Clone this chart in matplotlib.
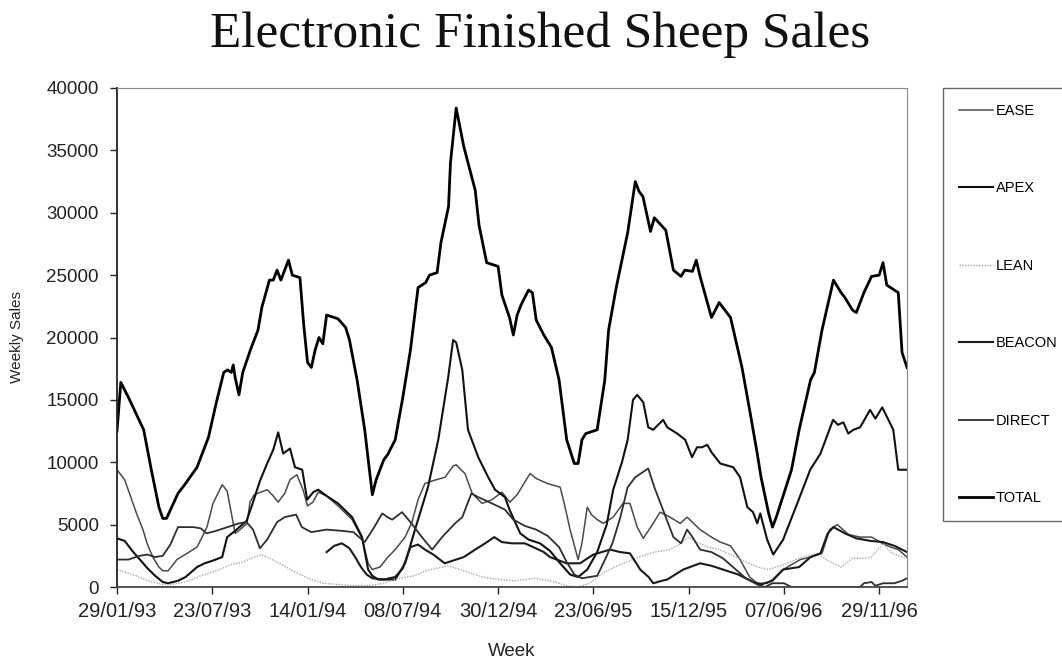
import matplotlib
matplotlib.use('Agg')
import matplotlib.pyplot as plt
import numpy as np

"""
Electronic Finished Sheep Sales, weekly, 29/01/93 onwards.
Values read off the original chart (week index, sales).
"""

tick_weeks = [0, 25, 50, 75, 100, 125, 150, 175, 200]
tick_labels = ['29/01/93', '23/07/93', '14/01/94', '08/07/94', '30/12/94',
               '23/06/95', '15/12/95', '07/06/96', '29/11/96']

total_w = [0, 1, 3, 7, 9, 11, 12, 13, 16, 18, 21, 24, 26, 28, 29, 30, 30.5, 31, 32, 33, 35, 37, 38, 40, 41,
           42, 43, 45, 46, 48, 49, 50, 51, 52, 53, 54, 55, 58, 60, 61, 63, 65, 67, 68, 70, 71, 73, 75, 77,
           79, 81, 82, 84, 85, 87, 87.5, 89, 91, 94, 95, 97, 100, 101, 103, 104, 105, 106, 108, 109, 110,
           112, 114, 116, 118, 120, 121, 122, 123, 126, 128, 129, 131, 134, 136, 137, 138, 140, 141, 144,
           146, 148, 149, 151, 152, 153, 156, 158, 161, 164, 166, 168, 169, 171, 172, 173, 177, 179, 182,
           183, 185, 188, 190, 191, 193, 194, 196, 198, 200, 201, 202, 205, 206, 207.3]
total_v = [12500, 16400, 15200, 12600, 9400, 6400, 5500, 5500, 7500, 8300, 9600, 12000, 14700, 17200,
           17400, 17200, 17800, 16800, 15400, 17200, 19000, 20600, 22400, 24600, 24600, 25400, 24600,
           26200, 25000, 24800, 21000, 18000, 17600, 19000, 20000, 19500, 21800, 21500, 20800, 19800,
           16600, 12600, 7400, 8600, 10200, 10600, 11800, 15200, 19000, 24000, 24400, 25000, 25200,
           27600, 30500, 34000, 38400, 35300, 31800, 29000, 26000, 25700, 23400, 21600, 20200, 21800,
           22600, 23800, 23600, 21400, 20200, 19200, 16600, 11800, 9900, 9900, 11800, 12300, 12600,
           16600, 20600, 24000, 28400, 32500, 31700, 31300, 28500, 29600, 28600, 25400, 24900, 25400,
           25300, 26200, 24900, 21600, 22800, 21600, 17600, 14200, 10700, 8800, 5900, 4800, 5600, 9400,
           12600, 16600, 17200, 20600, 24600, 23600, 23200, 22200, 22000, 23600, 24900, 25000, 26000,
           24200, 23600, 18800, 17600]

apex_w = [0, 2, 4, 6, 8, 10, 12, 13.4, 16, 18, 21, 23, 25, 27.6, 28.9, 31, 34, 35.7, 37.5, 39.4, 41, 42.3,
          43.6, 45.4, 46.7, 48.6, 49.9, 51.5, 52.8, 55, 58, 61.7, 64.3, 65.9, 67, 68.5, 73, 75.6, 78.2,
          81.6, 84.3, 86.9, 88.2, 89, 90.6, 92.1, 94.8, 97.4, 99.2, 101.8, 103, 105.8, 108, 111, 113.6,
          116.3, 118.9, 121, 123.4, 126, 128.5, 130.2, 132.5, 134, 135.4, 136.5, 138.1, 139.4, 140.7,
          143.3, 144.4, 147, 149.1, 150.9, 152.2, 153.5, 154.9, 156, 158.3, 161.7, 163.5, 165.4, 166.9,
          168, 168.8, 170.6, 172.2, 174.8, 178.5, 181.9, 184.6, 187.9, 189.2, 190.6, 191.9, 193.2, 195,
          197.6, 199, 200.8, 202.1, 203.7, 205, 207.3]
apex_v = [3900, 3700, 2900, 2200, 1500, 900, 400, 300, 500, 800, 1600, 1900, 2100, 2400, 4000, 4500, 5300,
          6800, 8500, 9900, 11000, 12400, 10700, 11100, 9600, 9400, 7000, 7600, 7800, 7300, 6700, 5600,
          4000, 1400, 900, 600, 600, 1900, 4600, 8000, 11800, 16800, 19800, 19600, 17400, 12600, 10400,
          8800, 7800, 7200, 6200, 4300, 3800, 3500, 2900, 1900, 1000, 800, 1400, 2800, 5000, 7800, 10000,
          11800, 15000, 15400, 14800, 12800, 12600, 13400, 12800, 12300, 11800, 10400, 11200, 11200,
          11400, 10800, 9900, 9600, 8800, 6400, 6000, 5100, 5900, 3800, 2600, 3800, 6700, 9400, 10700,
          13400, 13000, 13200, 12300, 12600, 12800, 14200, 13500, 14400, 13600, 12600, 9400, 9400]

ease_w = [0, 2, 3.4, 5, 6.8, 8, 9.4, 11, 12, 13.4, 15, 15.7, 18.4, 21, 22, 23.6, 25.2, 27.6, 28.9, 30.2,
          31, 32.3, 34.1, 34.9, 36, 39.4, 41, 42.3, 44, 45.4, 47.2, 48.8, 50, 51.4, 52.8, 55, 58, 61.7,
          64.3, 65.9, 67, 69, 71.1, 73, 75.6, 77.4, 79, 80.8, 82.7, 86.1, 88.2, 89, 90.6, 91.3, 93.2, 95.8,
          98.4, 101, 103.1, 105, 108.4, 110, 112.9, 116.3, 117.5, 118.9, 121, 122, 123.4, 124.5, 126,
          127.6, 130.2, 132.8, 134.6, 136.5, 138.1, 140.7, 142.5, 145.1, 147.8, 149.6, 153, 156, 158.3,
          161, 163.5, 166, 168, 170.6, 172, 174.8, 179.3, 182, 185, 187, 189, 192, 195, 198, 200.8, 203,
          205, 207.3]
ease_v = [9400, 8600, 7400, 6000, 4600, 3400, 2400, 1600, 1300, 1300, 1900, 2200, 2700, 3200, 3800, 4800,
          6700, 8200, 7700, 5600, 4300, 4600, 5100, 6800, 7400, 7800, 7300, 6800, 7500, 8600, 9000, 7800,
          6500, 6800, 7600, 7300, 6500, 5400, 3900, 1900, 1400, 1600, 2400, 3000, 4000, 5200, 7000, 8300,
          8500, 8800, 9700, 9800, 9300, 9100, 7500, 6700, 7000, 7600, 6800, 7400, 9100, 8700, 8300, 8000,
          6500, 4600, 2200, 3500, 6400, 5800, 5400, 5100, 5600, 6700, 6700, 4800, 3900, 5100, 6000, 5600,
          5100, 5600, 4600, 4000, 3600, 3300, 2200, 800, 300, 300, 600, 1400, 2200, 2400, 2700, 4600,
          5000, 4200, 4000, 4000, 3500, 3200, 3000, 2400]

lean_w = [0, 2, 5, 8, 12, 14, 18, 22, 26, 30, 33, 36, 38, 40, 42, 45, 48, 51, 54, 58, 62, 66, 70, 74, 78,
          81, 84, 87, 89, 92, 96, 100, 104, 110, 115, 118, 121, 124, 128, 132, 137, 141, 145, 148, 150,
          152, 155, 158, 161, 165, 168, 171, 175, 178, 181, 184, 186, 188, 190, 193, 196, 198, 201, 203,
          205, 207.3]
lean_v = [1400, 1200, 900, 500, 200, 200, 400, 900, 1300, 1800, 2000, 2400, 2600, 2300, 2000, 1500, 1000,
          600, 300, 200, 100, 100, 300, 700, 900, 1300, 1500, 1700, 1500, 1200, 800, 600, 500, 700, 400,
          100, 0, 300, 1200, 1800, 2400, 2800, 3000, 3500, 4000, 3600, 3200, 3000, 2600, 2000, 1600, 1400,
          1800, 2200, 2500, 2700, 2200, 1900, 1600, 2300, 2300, 2400, 3500, 2800, 2500, 2300]

beacon_w = [55, 57, 59, 61, 62.5, 64, 65.5, 67, 70, 73, 75, 77, 79, 80.8, 83, 86, 88, 91, 94, 96.6, 99,
            101, 103.7, 107, 109.2, 112, 113.6, 118, 121.5, 125, 129.4, 132, 134.6, 137.3, 139.5, 140.7,
            143, 144.4, 147, 148.6, 153, 156, 159, 163, 167, 169, 172, 174.8, 179, 182, 184.6, 186.5, 188,
            191, 194, 197.6, 201, 204, 207.3]
beacon_v = [2800, 3300, 3500, 3100, 2400, 1600, 1000, 700, 600, 800, 1500, 3200, 3400, 3000, 2600, 1900,
            2100, 2400, 3000, 3500, 4000, 3600, 3500, 3500, 3200, 2800, 2400, 1900, 1900, 2600, 3000, 2800,
            2700, 1400, 800, 300, 500, 600, 1100, 1400, 1900, 1700, 1400, 1000, 400, 200, 500, 1400, 1600,
            2400, 2700, 4300, 4800, 4300, 3900, 3700, 3600, 3300, 2800]

direct_w = [0, 3, 6, 8, 10, 12, 14, 16, 20, 22, 23.5, 26, 29, 32, 34, 35.7, 37.5, 39.4, 42, 44, 47, 48.5,
            51, 55, 59, 62, 65, 67.5, 69.6, 71, 72.2, 74.8, 77, 80, 82.7, 85.3, 88.7, 90.6, 93, 94.8, 98.4,
            101.8, 104, 107, 110, 113, 116, 118, 120, 122, 126, 127.6, 130, 132, 134, 136, 139.4, 141, 144,
            146, 148, 149.6, 151, 153, 156, 159, 162, 165, 168, 170, 172, 175, 177, 195, 196, 198, 199, 201,
            204, 206, 207.3]
direct_v = [2200, 2200, 2500, 2600, 2400, 2500, 3400, 4800, 4800, 4700, 4300, 4500, 4800, 5100, 5200, 4600,
            3100, 3800, 5200, 5600, 5800, 4800, 4400, 4600, 4500, 4400, 3600, 4800, 5900, 5600, 5400, 6000,
            5200, 4000, 3000, 4000, 5100, 5600, 7500, 7200, 6700, 6200, 5400, 4900, 4600, 4100, 3200, 2000,
            1000, 700, 900, 1900, 3500, 5500, 8000, 8800, 9500, 8000, 5600, 4000, 3500, 4600, 4000, 3000,
            2800, 2300, 1500, 700, 200, 0, 300, 300, 0, 0, 300, 400, 100, 300, 300, 500, 700]

series = [
    ('EASE', ease_w, ease_v, dict(color='#4a4a4a', lw=1.1)),
    ('APEX', apex_w, apex_v, dict(color='#111111', lw=1.5)),
    ('LEAN', lean_w, lean_v, dict(color='#a8a8a8', lw=1.0, ls=(0, (1, 1)))),
    ('BEACON', beacon_w, beacon_v, dict(color='#1a1a1a', lw=1.5)),
    ('DIRECT', direct_w, direct_v, dict(color='#2e2e2e', lw=1.3)),
    ('TOTAL', total_w, total_v, dict(color='#000000', lw=2.0)),
]

plt.rcParams['font.family'] = ['Liberation Sans', 'DejaVu Sans']

fig = plt.figure(figsize=(10.62, 6.67), dpi=100)
ax = fig.add_axes([117 / 1062, 1 - 587 / 667, (907 - 117) / 1062, (587 - 88) / 667])

handles = []
for name, w, v, style in series:
    line, = ax.plot(w, v, label=name, solid_joinstyle='round', **style)
    handles.append(line)

ax.set_xlim(0, 207.3)
ax.set_ylim(0, 40000)
ax.set_yticks(np.arange(0, 40001, 5000))
ax.set_xticks(tick_weeks)
ax.set_xticklabels(tick_labels)
ax.tick_params(axis='y', direction='out', length=5, width=1, pad=8, labelsize=13.5, colors='#222222')
ax.tick_params(axis='x', direction='out', length=5, width=1, pad=6, labelsize=14.5, colors='#222222')

ax.spines['left'].set_color('#222222')
ax.spines['left'].set_linewidth(1.3)
ax.spines['bottom'].set_color('#444444')
ax.spines['bottom'].set_linewidth(1.3)
for s in ['top', 'right']:
    ax.spines[s].set_color('#888888')
    ax.spines[s].set_linewidth(0.8)
    ax.spines[s].set_linestyle((0, (1, 1)))

fig.text(540 / 1062, 1 - 35 / 667, 'Electronic Finished Sheep Sales', ha='center', va='center',
         fontsize=37, family='Liberation Serif', color='#111111')
fig.text(17 / 1062, 1 - 337 / 667, 'Weekly Sales', rotation=90, ha='center', va='center',
         fontsize=11, color='#222222')
fig.text(512 / 1062, 1 - 651 / 667, 'Week', ha='center', va='center', fontsize=13.5, color='#222222')

leg = fig.legend(handles, [s[0] for s in series], loc='upper left',
                 bbox_to_anchor=(943 / 1062, 1 - 88 / 667), frameon=True, fancybox=False,
                 edgecolor='#444444', fontsize=10.5, labelspacing=4.35, handlelength=2.3,
                 handletextpad=0.2, borderpad=1.1, borderaxespad=0)
leg.get_frame().set_linewidth(1.0)

fig.savefig('out.png', dpi=100)
